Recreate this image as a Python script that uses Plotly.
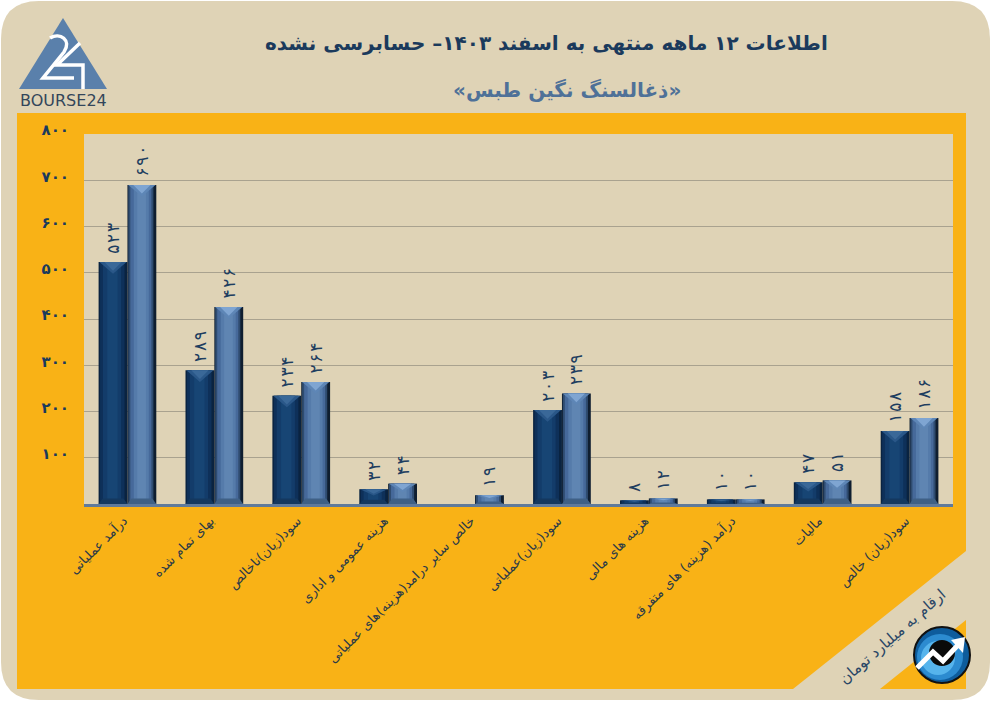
# plot.py - نمودار اطلاعات ۱۲ ماهه ذغالسنگ نگین طبس
import plotly.graph_objects as go

W, H = 991, 704

categories = [
    "درآمد عملیاتی",
    "بهای تمام شده",
    "سود(زیان)ناخالص",
    "هزینه عمومی و اداری",
    "خالص سایر درامد(هزینه)های عملیاتی",
    "سود(زیان)عملیاتی",
    "هزینه های مالی",
    "درآمد (هزینه) های متفرقه",
    "مالیات",
    "سود(زیان) خالص",
]
series_dark = [523, 289, 234, 32, None, 203, 8, 10, 47, 158]
series_light = [690, 426, 264, 44, 19, 239, 12, 10, 51, 186]
y_ticks = [100, 200, 300, 400, 500, 600, 700, 800]

FA = str.maketrans("0123456789", "۰۱۲۳۴۵۶۷۸۹")
BAR = 0.332


def fa(n):
    return "" if n is None else str(n).translate(FA)


def spaced(n):
    # ارقام برچسب‌ها با فاصله کم از هم
    return "" if n is None else "\u00a0" + "\u200a".join(fa(n))


def px(x):
    return x / W


def py(y):
    return 1 - y / H


def path(points, close=True):
    d = "M" + " L".join(f"{px(x):.5f},{py(y):.5f}" for x, y in points)
    return d + (" Z" if close else "")


def circle(cx, cy, r, color, line=None):
    return dict(type="circle", xref="paper", yref="paper", layer="below",
                x0=px(cx - r), x1=px(cx + r), y0=py(cy + r), y1=py(cy - r),
                fillcolor=color, line=dict(width=2 if line else 0, color=line or color))


def poly(points, color):
    return dict(type="path", xref="paper", yref="paper", layer="below", path=path(points),
                fillcolor=color, line=dict(width=0))


def stroke(d, color="white", width=3.5):
    return dict(type="path", xref="paper", yref="paper", layer="below", path=d,
                line=dict(color=color, width=width))


def rounded_card(x0, y0, x1, y1, r):
    c = lambda x, y: f"{px(x):.5f},{py(y):.5f}"
    return (f"M{c(x0 + r, y0)} L{c(x1 - r, y0)} Q{c(x1, y0)} {c(x1, y0 + r)} "
            f"L{c(x1, y1 - r)} Q{c(x1, y1)} {c(x1 - r, y1)} L{c(x0 + r, y1)} "
            f"Q{c(x0, y1)} {c(x0, y1 - r)} L{c(x0, y0 + r)} Q{c(x0, y0)} {c(x0 + r, y0)} Z")


def bevel_bars(fig, values, start, layers, top_colors, bottom_color):
    # لایه‌های روی هم برای حالت برجسته میله‌ها
    xs = list(range(len(values)))
    for left, right, color in layers:
        fig.add_trace(go.Bar(
            x=xs, y=values,
            offset=start + left * BAR,
            width=BAR * (1 - left - right),
            marker=dict(color=color, line=dict(width=0)),
            hoverinfo="skip", showlegend=False,
        ))
    bx, by = [], []
    for i, v in enumerate(values):
        if not v:
            continue
        b = min(12, v * 0.28)
        bx += [i + start, i + start + BAR * 0.14, i + start + BAR * 0.86, i + start + BAR, None]
        by += [0, b, b, 0, None]
    fig.add_trace(go.Scatter(x=bx, y=by, mode="lines", fill="toself", fillcolor=bottom_color,
                             line=dict(width=0), hoverinfo="skip", showlegend=False))
    # مثلث روشن بالای میله، دو لایه
    for inset, scale, color in top_colors:
        tx, ty = [], []
        for i, v in enumerate(values):
            if not v:
                continue
            h = min(25, v * 0.42) * scale
            tx += [i + start + BAR * inset, i + start + BAR / 2, i + start + BAR * (1 - inset), None]
            ty += [v, v - h, v, None]
        fig.add_trace(go.Scatter(x=tx, y=ty, mode="lines", fill="toself", fillcolor=color,
                                 line=dict(width=0), hoverinfo="skip", showlegend=False))
    # برچسب مقدار
    fig.add_trace(go.Bar(
        x=xs, y=values, offset=start, width=BAR,
        marker=dict(color="rgba(0,0,0,0)", line=dict(width=0)),
        text=[spaced(v) for v in values], textposition="outside", textangle=-90,
        constraintext="none",
        textfont=dict(family="DejaVu Sans", size=17, color="#1E3E60"),
        cliponaxis=False, hoverinfo="skip", showlegend=False,
    ))


fig = go.Figure()
bevel_bars(
    fig, series_dark, -BAR,
    [(0, 0, "#0A2340"), (0.05, 0.1, "#0E3059"), (0.15, 0.22, "#133C6A"), (0.3, 0.34, "#174574")],
    [(0.03, 1, "#2A5788"), (0.2, 0.75, "#3A6898")],
    "#14385F",
)
bevel_bars(
    fig, series_light, 0,
    [(0, 0, "#0F1E30"), (0.03, 0.1, "#2F4C70"), (0.1, 0.17, "#46699A"), (0.22, 0.26, "#557BAA"), (0.34, 0.36, "#5F85B2")],
    [(0.03, 1, "#5E86B6"), (0.2, 0.75, "#7FA5D2")],
    "#3F6085",
)

shapes = [
    dict(type="path", xref="paper", yref="paper", layer="below",
         path=rounded_card(1, 1, 990, 700, 38), fillcolor="#DFD3B6", line=dict(width=0)),
    poly([(17, 113), (966, 113), (966, 551), (793, 689), (17, 689)], "#F9B216"),
    poly([(84, 134), (953, 134), (953, 504), (84, 504)], "#DFD3B6"),
    poly([(966, 620), (966, 689), (880, 689)], "#F9B216"),
    # لوگوی بورس۲۴
    poly([(63, 18), (107, 89), (19, 89)], "#5A80AB"),
    stroke(f"M{px(50):.5f},{py(38):.5f} C{px(60):.5f},{py(32):.5f} {px(72):.5f},{py(40):.5f} {px(64):.5f},{py(52):.5f} "
           f"L{px(43):.5f},{py(78):.5f} L{px(74):.5f},{py(78):.5f}"),
    stroke(path([(80, 43), (57, 65), (83, 65), (83, 89)], close=False)),
    # نشان پایین سمت راست
    circle(942, 655, 28, "#0E5C9C", "#111111"),
    circle(940, 657, 23, "#2C8BD0"),
    circle(938, 658, 17, "#56B4EC"),
    circle(942, 653, 13, "#0A0A0A"),
    stroke(path([(917, 668), (933, 652), (943, 661), (958, 645)], close=False), width=5),
    poly([(965, 637), (951, 640), (963, 653)], "white"),
]

annotations = [
    dict(text="<b>اطلاعات ۱۲ ماهه منتهی به اسفند ۱۴۰۳– حسابرسی نشده</b>", x=px(546), y=py(43),
         font=dict(family="DejaVu Sans", size=20, color="#1B3A5C")),
    dict(text="<b>«ذغالسنگ نگین طبس»</b>", x=px(567), y=py(90),
         font=dict(family="DejaVu Sans", size=20, color="#4F7198")),
    dict(text="BOURSE24", x=px(63), y=py(101),
         font=dict(family="DejaVu Sans", size=16, color="#33465A")),
    dict(text="ارقام به میلیارد تومان", x=px(892), y=py(637), textangle=-41,
         font=dict(family="DejaVu Sans", size=15, color="#2A4766")),
]
for a in annotations:
    a.update(xref="paper", yref="paper", showarrow=False, xanchor="center", yanchor="middle")

fig.update_layout(
    width=W, height=H,
    margin=dict(l=0, r=0, t=0, b=0),
    paper_bgcolor="white",
    plot_bgcolor="rgba(0,0,0,0)",
    barmode="overlay",
    showlegend=False,
    shapes=shapes,
    annotations=annotations,
    xaxis=dict(
        domain=[px(84), px(953)], range=[-0.5, 9.5], automargin=False,
        tickvals=list(range(len(categories))), ticktext=categories, tickangle=-45,
        tickfont=dict(family="DejaVu Sans", size=13, color="#2B3A48"),
        showgrid=False, zeroline=False, ticks="", ticklabelstandoff=1, ticklabelshift=-4,
        showline=True, linecolor="#5F7A9B", linewidth=3,
    ),
    yaxis=dict(
        domain=[py(504), py(134)], range=[0, 800], automargin=False,
        tickvals=y_ticks, ticktext=[fa(v) for v in y_ticks],
        tickfont=dict(family="DejaVu Sans", size=15, color="#1B3A5C", weight="bold"),
        showgrid=True, gridcolor="#A9A28F", gridwidth=1, zeroline=False,
        ticks="", ticklabelstandoff=14, ticklabelshift=-4,
    ),
)

fig.write_html("out.html", config={"displayModeBar": False},
               post_script="document.body.style.margin='0';")
